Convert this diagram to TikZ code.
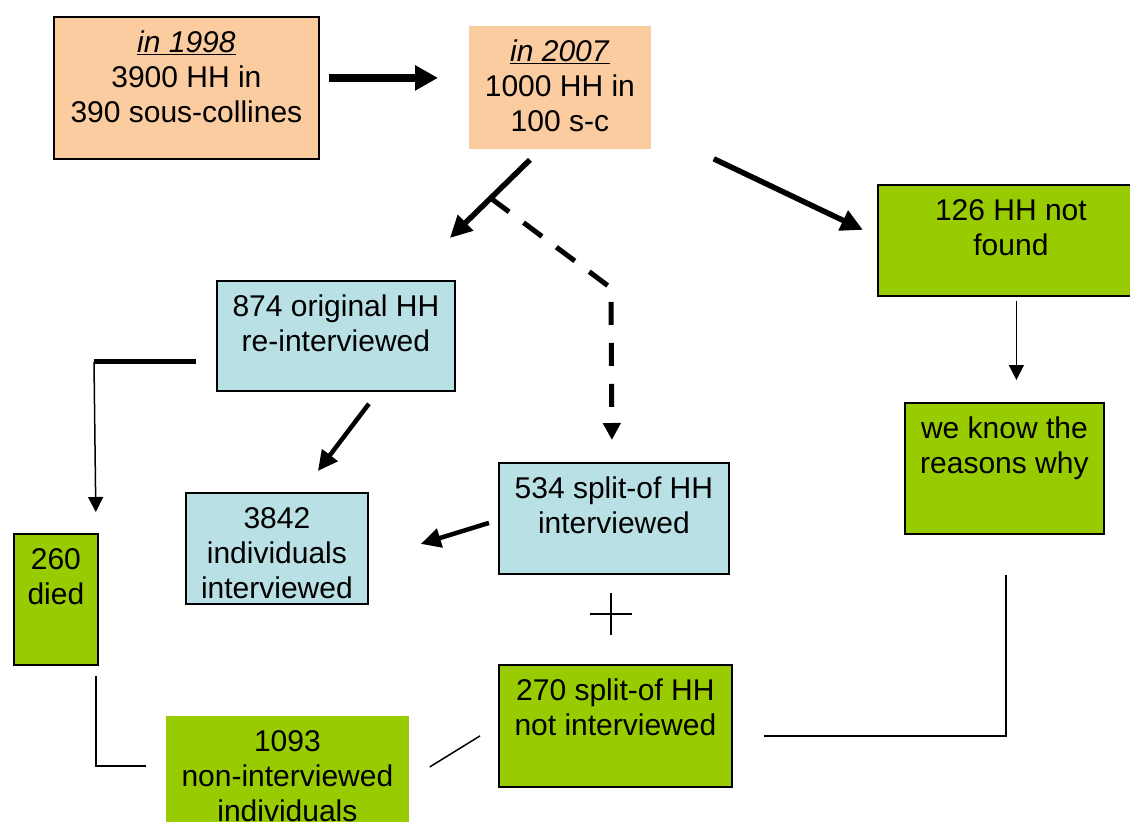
\documentclass[tikz,border=0pt]{standalone}
\usepackage{fontspec}
\setmainfont{Liberation Sans}
\usetikzlibrary{arrows.meta}
\definecolor{peach}{RGB}{250,204,160}
\definecolor{lightblue}{RGB}{185,224,228}
\definecolor{leaf}{RGB}{153,204,0}
\tikzset{
  box/.style={rectangle, anchor=north west, inner sep=0pt, draw=black, line width=1.8pt},
  peachbox/.style={box, fill=peach},
  bluebox/.style={box, fill=lightblue},
  greenbox/.style={box, fill=leaf},
  txt/.style={anchor=north, yshift=-15pt, inner sep=0pt, align=center, font=\fontsize{30}{35}\selectfont},
  fatarrow/.style={-{Triangle[length=23pt,width=24pt]}, line width=8pt},
  bigarrow/.style={-{Triangle[length=22pt,width=21pt]}, line width=5.5pt},
  midarrow/.style={-{Triangle[length=20pt,width=19pt]}, line width=4.5pt},
  dasharrow/.style={-{Triangle[length=17pt,width=17pt]}, line width=5pt, dash pattern=on 23pt off 18pt},
  thinarrow/.style={-{Triangle[length=15pt,width=15pt]}, line width=1.5pt},
  thinline/.style={line width=1.5pt},
}
\begin{document}
\begin{tikzpicture}[x=1pt,y=-1pt]
  \useasboundingbox (0,0) rectangle (1130,822);
  % boxes, text at the top of each
  \node[peachbox, minimum width=265pt, minimum height=142pt,
    label={[txt]north:{\underline{\textit{in 1998}}\\3900 HH in\\390 sous-collines}}] (b1998) at (53,16) {};
  \node[peachbox, draw=none, minimum width=182pt, minimum height=123pt,
    label={[txt]north:{\underline{\textit{in 2007}}\\1000 HH in\\100 s-c}}] (b2007) at (468,25) {};
  \node[greenbox, minimum width=266pt, minimum height=111pt,
    label={[txt]north:{126 HH not\\found}}] (b126) at (877,184) {};
  \node[greenbox, minimum width=199pt, minimum height=131pt,
    label={[txt]north:{we know the\\reasons why}}] (bwhy) at (904,402) {};
  \node[bluebox, minimum width=238pt, minimum height=110pt,
    label={[txt]north:{874 original HH\\re-interviewed}}] (b874) at (216,280) {};
  \node[bluebox, minimum width=182pt, minimum height=111pt,
    label={[txt]north:{3842\\individuals\\interviewed}}] (b3842) at (185,492) {};
  \node[bluebox, minimum width=230pt, minimum height=111pt,
    label={[txt]north:{534 split-of HH\\interviewed}}] (b534) at (498,462) {};
  \node[greenbox, minimum width=84pt, minimum height=131pt,
    label={[txt]north:{260\\died}}] (b260) at (13,533) {};
  \node[greenbox, draw=none, minimum width=243pt, minimum height=120pt,
    label={[txt]north:{1093\\non-interviewed\\individuals}}] (b1093) at (165,715) {};
  \node[greenbox, minimum width=233pt, minimum height=122pt,
    label={[txt]north:{270 split-of HH\\not interviewed}}] (b270) at (498,664) {};

  % arrows
  \draw[fatarrow] ([shift={(9,-10)}]b1998.east) -- ([shift={(-30,-9.5)}]b2007.west);
  \draw[bigarrow] ([shift={(-30,10)}]b2007.south) -- coordinate[pos=0.49] (fork) ([shift={(114,-42)}]b874.north);
  \coordinate (bend) at (611,288);
  \draw[dasharrow] (fork) -- (bend) -- ([shift={(-2,-22)}]b534.north);
  \draw[bigarrow] ([shift={(62,9)}]b2007.south east) -- ([shift={(-14,-10.5)}]b126.west);
  \draw[thinarrow] ([shift={(5.5,4)}]b126.south) -- ([shift={(12,-22)}]bwhy.north);
  \draw[midarrow] ([shift={(33,12)}]b874.south) -- ([shift={(41,-21)}]b3842.north);
  \draw[midarrow] ([shift={(-9,4.5)}]b534.west) -- ([shift={(52,-4.5)}]b3842.east);

  % bracket down to the dead
  \path ([shift={(-122,26)}]b874.west) coordinate (elbow);
  \draw[line width=5pt] ([shift={(-20,26)}]b874.west) -- (elbow);
  \draw[thinarrow] (elbow) -- ([shift={(-3,-21)}]b260.north east);

  % lines into the non-interviewed
  \draw[thinline] ([shift={(-3,10)}]b260.south east) |- ([shift={(-19,-10)}]b1093.west);
  \draw[thinline] ([shift={(20,-9)}]b1093.east) -- ([shift={(-18,10)}]b270.west);
  \draw[thinline] ([shift={(31,10)}]b270.east) -| ([shift={(1.5,40)}]bwhy.south);

  % plus sign
  \coordinate (plus) at (611,614);
  \draw[thinline] (plus) +(-21,0) -- +(21,0) (plus) +(0,-21) -- +(0,21);
\end{tikzpicture}
\end{document}
